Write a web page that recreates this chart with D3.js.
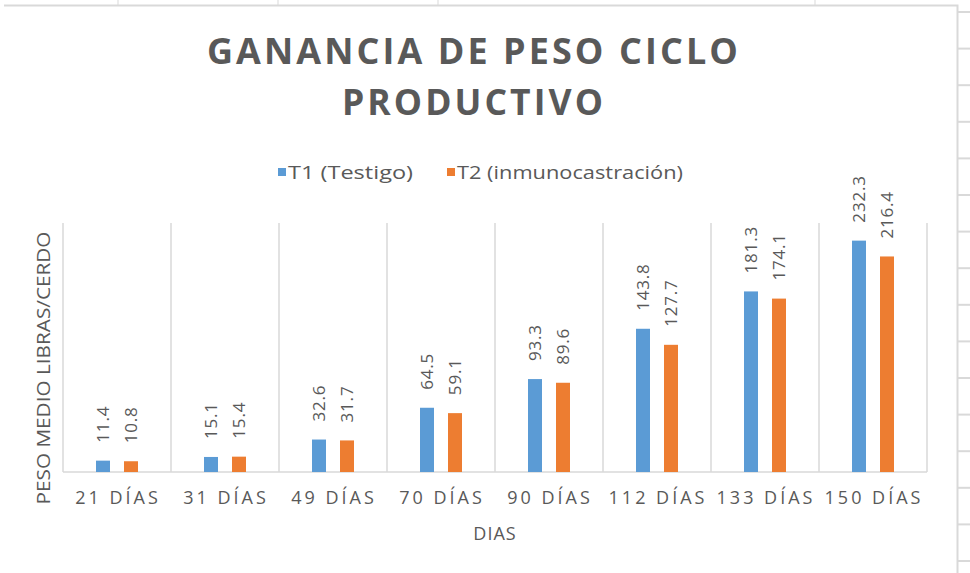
<!DOCTYPE html>
<html>
<head>
<meta charset="utf-8">
<script src="https://cdn.jsdelivr.net/npm/d3@7"></script>
<style>
  body { margin: 0; background: #fff; }
  text { font-family: "Open Sans", "Noto Sans", sans-serif; fill: #595959; }
</style>
</head>
<body>
<svg id="chart" width="970" height="573"></svg>
<script>
var categories = ['21 DÍAS','31 DÍAS','49 DÍAS','70 DÍAS','90 DÍAS','112 DÍAS','133 DÍAS','150 DÍAS'],
    seriesNames = ['T1 (Testigo)', 'T2 (inmunocastración)'],
    t1 = [11.4, 15.1, 32.6, 64.5, 93.3, 143.8, 181.3, 232.3],
    t2 = [10.8, 15.4, 31.7, 59.1, 89.6, 127.7, 174.1, 216.4],
    colors = ['#5b9bd5', '#ed7d31'];

var svg = d3.select('#chart');

var plotLeft = 63, plotRight = 927, plotTop = 223, plotBottom = 472;

// sheet grid peeking round the chart frame
var frame = svg.append('g').attr('stroke', '#d9d9d9').attr('fill', 'none');
frame.append('path').attr('d', 'M4,5.5H957.5V573').attr('stroke-width', 2);
d3.range(12, 573, 36.6).forEach(function(yy) {
  frame.append('line').attr('x1', 958).attr('x2', 970).attr('y1', yy).attr('y2', yy).attr('stroke-width', 2);
});
[118, 278, 438, 815].forEach(function(xx) {
  frame.append('line').attr('x1', xx).attr('x2', xx).attr('y1', 0).attr('y2', 5);
});

var x0 = d3.scaleBand().domain(categories).range([plotLeft, plotRight]);
var x1 = d3.scaleBand().domain([0, 1]).range([0, 42]).paddingInner(0.5).paddingOuter(0);
var y = d3.scaleLinear().domain([0, 250]).range([plotBottom, plotTop]);

// category separators
svg.append('g').selectAll('line')
    .data(categories.concat(['end']))
  .enter().append('line')
    .attr('x1', function(d, i) { return plotLeft + i * x0.bandwidth(); })
    .attr('x2', function(d, i) { return plotLeft + i * x0.bandwidth(); })
    .attr('y1', plotTop).attr('y2', plotBottom)
    .attr('stroke', '#d9d9d9').attr('stroke-width', 1.5);

svg.append('line')
    .attr('x1', plotLeft).attr('x2', plotRight).attr('y1', plotBottom).attr('y2', plotBottom)
    .attr('stroke', '#d9d9d9').attr('stroke-width', 1.5);

// bars
var groups = svg.selectAll('.cat')
    .data(categories)
  .enter().append('g')
    .attr('class', 'cat')
    .attr('transform', function(d) { return 'translate(' + (x0(d) + x0.bandwidth() / 2 - 21) + ',0)'; });

groups.selectAll('rect')
    .data(function(d, i) { return [t1[i], t2[i]]; })
  .enter().append('rect')
    .attr('x', function(d, j) { return x1(j); })
    .attr('width', x1.bandwidth())
    .attr('y', function(d) { return y(d); })
    .attr('height', function(d) { return plotBottom - y(d); })
    .attr('fill', function(d, j) { return colors[j]; });

groups.selectAll('.lbl')
    .data(function(d, i) { return [t1[i], t2[i]]; })
  .enter().append('text')
    .attr('class', 'lbl')
    .attr('transform', function(d, j) {
      return 'translate(' + (x1(j) + x1.bandwidth() / 2) + ',' + (y(d) - 18) + ')rotate(-90)';
    })
    .attr('dy', '0.35em')
    .style('font-size', '17px')
    .style('letter-spacing', '0.8px')
    .text(function(d) { return d.toFixed(1); });

// category labels
svg.append('g').selectAll('text')
    .data(categories)
  .enter().append('text')
    .attr('x', function(d) { return x0(d) + x0.bandwidth() / 2 + 1; })
    .attr('y', 498)
    .attr('dy', '0.35em')
    .attr('text-anchor', 'middle')
    .style('font-size', '18px')
    .style('letter-spacing', '3px')
    .text(function(d) { return d; });

// axis titles
svg.append('text')
    .attr('x', 495).attr('y', 534).attr('dy', '0.35em')
    .attr('text-anchor', 'middle')
    .style('font-size', '18px')
    .style('letter-spacing', '1px')
    .text('DIAS');

svg.append('text')
    .attr('transform', 'translate(44,368)rotate(-90)')
    .attr('dy', '0.35em')
    .attr('text-anchor', 'middle')
    .style('font-size', '18px')
    .attr('textLength', 273).attr('lengthAdjust', 'spacingAndGlyphs')
    .text('PESO MEDIO LIBRAS/CERDO');

// title
var titleLines = ['GANANCIA DE PESO CICLO', 'PRODUCTIVO'],
    titleWidths = [534, 264];
svg.append('g').selectAll('text')
    .data(titleLines)
  .enter().append('text')
    .attr('x', 474)
    .attr('y', function(d, i) { return 52 + i * 51; })
    .attr('dy', '0.35em')
    .attr('text-anchor', 'middle')
    .attr('textLength', function(d, i) { return titleWidths[i]; })
    .attr('lengthAdjust', 'spacingAndGlyphs')
    .style('font-size', '35px')
    .style('font-weight', 'bold')
    .style('letter-spacing', '3px')
    .text(function(d) { return d; });

// legend
var legendX = [278, 447],
    legendW = [125, 226];
var legend = svg.selectAll('.legend')
    .data(seriesNames)
  .enter().append('g')
    .attr('class', 'legend')
    .attr('transform', function(d, i) { return 'translate(' + legendX[i] + ',172)'; });
legend.append('rect')
    .attr('x', 0).attr('y', -4).attr('width', 8).attr('height', 8)
    .attr('fill', function(d, i) { return colors[i]; });
legend.append('text')
    .attr('x', 10).attr('dy', '0.35em')
    .style('font-size', '19px')
    .attr('textLength', function(d, i) { return legendW[i]; })
    .attr('lengthAdjust', 'spacingAndGlyphs')
    .text(function(d) { return d; });
</script>
</body>
</html>
